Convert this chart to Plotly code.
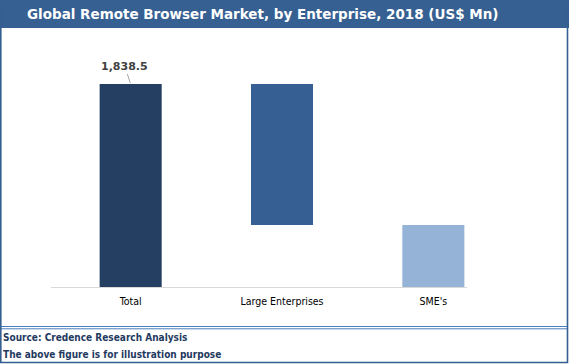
import plotly.graph_objects as go

categories = ["Total", "Large Enterprises", "SME's"]
total_value = 1838.5
large_value = 1277.0
sme_value = 561.5
bar_values = [total_value, large_value, sme_value]
bar_bases = [0, sme_value, 0]
bar_colors = ["#243F62", "#366093", "#95B3D7"]
label_text = "1,838.5"

W, H = 569, 364
L, R, T, B = 55, 509, 40, 287  # plot area in pixels


def px(x):
    return (x - L) / (R - L)


def py(y):
    return (B - y) / (B - T)


fig = go.Figure()
fig.add_trace(go.Bar(
    x=categories, y=bar_values, base=bar_bases,
    marker=dict(color=bar_colors, line=dict(width=0)),
    width=0.41, hoverinfo="skip", showlegend=False,
))

shapes = [
    # title band
    dict(type="rect", xref="paper", yref="paper", x0=px(0), x1=px(W), y0=py(28), y1=py(0),
         fillcolor="#366092", line=dict(width=0), layer="below"),
    # axis line
    dict(type="line", xref="paper", yref="paper", x0=px(51), x1=px(467), y0=py(287.5), y1=py(287.5),
         line=dict(color="#D9D9D9", width=1)),
    # double separator line
    dict(type="line", xref="paper", yref="paper", x0=px(0), x1=px(568), y0=py(326.5), y1=py(326.5),
         line=dict(color="#4A7EBB", width=1)),
    dict(type="line", xref="paper", yref="paper", x0=px(0), x1=px(568), y0=py(328.8), y1=py(328.8),
         line=dict(color="#4A7EBB", width=1)),
    # outer border
    dict(type="rect", xref="paper", yref="paper", x0=px(0.8), x1=px(567.5), y0=py(362.5), y1=py(0.8),
         line=dict(color="#365F91", width=1.6), fillcolor="rgba(0,0,0,0)"),
]

annotations = [
    dict(xref="paper", yref="paper", x=px(262.5), y=py(14), text="<b>Global Remote Browser Market, by Enterprise, 2018 (US$ Mn)</b>",
         showarrow=False, xanchor="center", yanchor="middle",
         font=dict(family="DejaVu Sans", size=13.5, color="white")),
    dict(x=categories[0], y=total_value, xref="x", yref="y", text="<b>" + label_text + "</b>",
         showarrow=True, arrowhead=0, arrowwidth=1, arrowcolor="#A6A6A6", ax=-6, ay=-18,
         standoff=1, font=dict(family="DejaVu Sans", size=11, color="#404040")),
    dict(xref="paper", yref="paper", x=px(1), y=py(337), text="<b>Source: Credence Research Analysis</b>",
         showarrow=False, xanchor="left", yanchor="middle",
         font=dict(family="DejaVu Sans Condensed", size=10, color="#1F3A5F")),
    dict(xref="paper", yref="paper", x=px(1), y=py(354), text="<b>The above figure is for illustration purpose</b>",
         showarrow=False, xanchor="left", yanchor="middle",
         font=dict(family="DejaVu Sans Condensed", size=10, color="#1F3A5F")),
]

ymax = total_value * (B - T) / (287 - 84)

fig.update_layout(
    width=W, height=H,
    margin=dict(l=L, r=W - R, t=T, b=H - B, pad=0),
    paper_bgcolor="white", plot_bgcolor="white",
    xaxis=dict(range=[-0.5, 2.5], showgrid=False, zeroline=False, showline=False, ticks="",
               ticklabelstandoff=6,
               tickfont=dict(family="DejaVu Sans Condensed", size=10.5, color="#000000"), fixedrange=True),
    yaxis=dict(range=[0, ymax], showgrid=False, zeroline=False, showline=False, showticklabels=False,
               fixedrange=True),
    shapes=shapes, annotations=annotations,
    bargap=0.59,
)

fig.write_html("out.html", config=dict(displayModeBar=False),
               post_script="document.body.style.margin='0';document.body.style.overflow='hidden';")
